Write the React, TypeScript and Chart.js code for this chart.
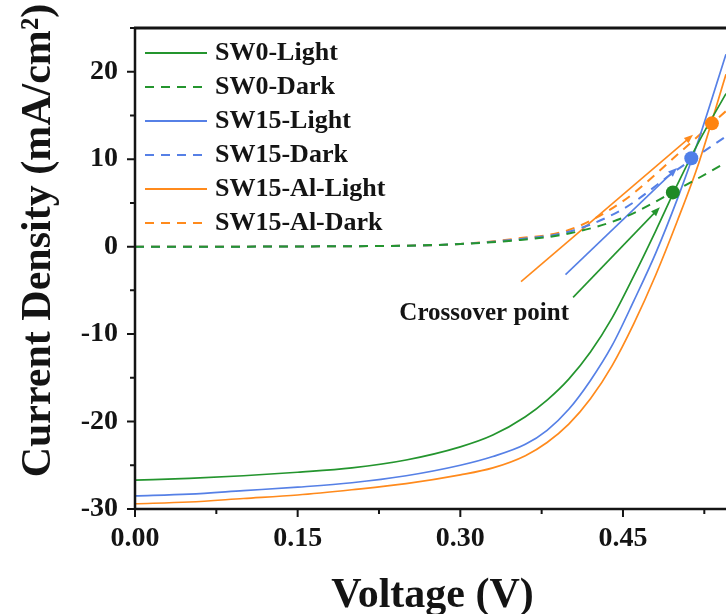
import React, { useEffect, useRef } from 'react';
import { Chart, registerables } from 'chart.js';

Chart.register(...registerables);

// ---- data ----
const lightV = [0, 0.05, 0.1, 0.15, 0.2, 0.25, 0.3, 0.33, 0.36, 0.38, 0.4, 0.42, 0.44, 0.46, 0.48, 0.5, 0.52, 0.545];
const sw0Light = [-26.7, -26.5, -26.2, -25.8, -25.3, -24.4, -22.9, -21.55, -19.45, -17.55, -15.15, -12.05, -8.15, -3.35, 1.75, 7.05, 12.0, 17.5];
const sw15Light = [-28.5, -28.3, -27.9, -27.5, -27.0, -26.2, -25.0, -24.0, -22.6, -21.0, -18.6, -15.3, -11.3, -6.2, -0.8, 5.4, 12.3, 22.0];
const sw15AlLight = [-29.4, -29.2, -28.8, -28.4, -27.8, -27.1, -26.1, -25.3, -23.9, -22.4, -20.3, -17.4, -13.6, -8.8, -3.3, 2.9, 9.6, 19.7];

const darkV = [0, 0.05, 0.1, 0.15, 0.2, 0.25, 0.3, 0.35, 0.4, 0.45, 0.5, 0.545];
const sw0Dark = [0, 0, 0, 0.02, 0.05, 0.1, 0.3, 0.7, 1.5, 3.3, 6.5, 9.6];
const sw15Dark = [0, 0, 0, 0.02, 0.05, 0.1, 0.3, 0.8, 1.7, 4.3, 8.8, 12.6];
const sw15AlDark = [0, 0, 0, 0.02, 0.05, 0.1, 0.3, 0.9, 1.9, 5.2, 10.5, 15.5];

const crossV = [0.496, 0.513, 0.532];
const crossJ = [6.2, 10.1, 14.1];

const arrowStartV = [0.404, 0.397, 0.356];
const arrowStartJ = [-5.8, -3.2, -4.0];
const arrowEndV = [0.484, 0.4998, 0.5146];
const arrowEndJ = [4.5, 9.0, 12.8];

const seriesLabels = ['SW0-Light', 'SW0-Dark', 'SW15-Light', 'SW15-Dark', 'SW15-Al-Light', 'SW15-Al-Dark'];
const xTitle = 'Voltage (V)';
const yTitle = 'Current Density (mA/cm²)';
const annotationText = 'Crossover point';

// ---- styles ----
const GREEN = '#24952e';
const BLUE = '#5680e6';
const ORANGE = '#ff8a1c';
const DOT_COLORS = ['#1f8a24', '#4f7fe8', '#ff8410'];
const ARROW_COLORS = [GREEN, BLUE, ORANGE];
const FONT = '"Liberation Serif", "Times New Roman", serif';
const INK = '#141414';

const pts = (xs: number[], ys: number[]) => xs.map((x, i) => ({ x, y: ys[i] }));

const isMult = (v: number, step: number) => Math.abs(v / step - Math.round(v / step)) < 1e-6;

export default function App() {
  const ref = useRef<HTMLCanvasElement>(null);

  useEffect(() => {
    const canvas = ref.current;
    if (!canvas) return;

    const overlay = {
      id: 'overlay',
      beforeDatasetsDraw(chart: any) {
        const { ctx, scales } = chart;
        const xs = scales.x;
        const ys = scales.y;
        ctx.save();
        for (let i = 0; i < arrowStartV.length; i++) {
          const x0 = xs.getPixelForValue(arrowStartV[i]);
          const y0 = ys.getPixelForValue(arrowStartJ[i]);
          const x1 = xs.getPixelForValue(arrowEndV[i]);
          const y1 = ys.getPixelForValue(arrowEndJ[i]);
          const ang = Math.atan2(y1 - y0, x1 - x0);
          ctx.strokeStyle = ARROW_COLORS[i];
          ctx.fillStyle = ARROW_COLORS[i];
          ctx.lineWidth = 1.6;
          ctx.beginPath();
          ctx.moveTo(x0, y0);
          ctx.lineTo(x1 - 6 * Math.cos(ang), y1 - 6 * Math.sin(ang));
          ctx.stroke();
          const L = 9;
          const W = 3.5;
          ctx.beginPath();
          ctx.moveTo(x1, y1);
          ctx.lineTo(x1 - L * Math.cos(ang) + W * Math.sin(ang), y1 - L * Math.sin(ang) - W * Math.cos(ang));
          ctx.lineTo(x1 - L * Math.cos(ang) - W * Math.sin(ang), y1 - L * Math.sin(ang) + W * Math.cos(ang));
          ctx.closePath();
          ctx.fill();
        }
        ctx.restore();
      },
      afterDraw(chart: any) {
        const { ctx, chartArea, scales } = chart;
        const xs = scales.x;
        const ys = scales.y;
        ctx.save();
        ctx.strokeStyle = INK;
        ctx.lineCap = 'butt';
        // axis lines
        ctx.lineWidth = 2.5;
        ctx.beginPath();
        ctx.moveTo(chartArea.left, chartArea.top - 1);
        ctx.lineTo(chartArea.left, chartArea.bottom + 1);
        ctx.moveTo(chartArea.left - 1, chartArea.bottom);
        ctx.lineTo(chartArea.right, chartArea.bottom);
        ctx.stroke();
        ctx.lineWidth = 3;
        ctx.beginPath();
        ctx.moveTo(chartArea.left - 1, chartArea.top);
        ctx.lineTo(chartArea.right, chartArea.top);
        ctx.stroke();
        // ticks
        ctx.lineWidth = 2;
        ctx.beginPath();
        xs.ticks.forEach((t: any) => {
          const px = xs.getPixelForValue(t.value);
          const len = isMult(t.value, 0.15) ? 8 : 5;
          ctx.moveTo(px, chartArea.bottom);
          ctx.lineTo(px, chartArea.bottom + len);
        });
        ys.ticks.forEach((t: any) => {
          const py = ys.getPixelForValue(t.value);
          const len = isMult(t.value, 10) ? 8 : 5;
          ctx.moveTo(chartArea.left, py);
          ctx.lineTo(chartArea.left - len, py);
        });
        ctx.stroke();

        // legend
        const items = chart.data.datasets.filter((d: any) => d.inLegend);
        items.forEach((d: any, i: number) => {
          const cy = chartArea.top + 25 + i * 34;
          ctx.save();
          ctx.strokeStyle = d.borderColor;
          ctx.lineWidth = 2;
          ctx.setLineDash(d.borderDash || []);
          ctx.beginPath();
          ctx.moveTo(chartArea.left + 10, cy);
          ctx.lineTo(chartArea.left + 72, cy);
          ctx.stroke();
          ctx.restore();
          ctx.fillStyle = INK;
          ctx.font = `bold 26px ${FONT}`;
          ctx.textAlign = 'left';
          ctx.textBaseline = 'middle';
          ctx.fillText(d.label, chartArea.left + 80, cy);
        });

        // annotation text
        ctx.fillStyle = INK;
        ctx.font = `bold 25px ${FONT}`;
        ctx.textAlign = 'center';
        ctx.textBaseline = 'alphabetic';
        ctx.fillText(annotationText, xs.getPixelForValue(0.322), ys.getPixelForValue(-8.4));

        // axis titles
        ctx.font = `bold 42px ${FONT}`;
        ctx.textAlign = 'center';
        ctx.textBaseline = 'alphabetic';
        ctx.fillText(xTitle, (chartArea.left + chartArea.right) / 2 + 2, chartArea.bottom + 98);
        ctx.save();
        ctx.translate(50, (chartArea.top + chartArea.bottom) / 2 - 28);
        ctx.rotate(-Math.PI / 2);
        ctx.fillText(yTitle, 0, 0);
        ctx.restore();
        ctx.restore();
      },
    };

    const tickFont = { family: FONT, size: 28, weight: 'bold' as const };

    const lineDs = (label: string, xs: number[], ys: number[], color: string, dashed: boolean) => ({
      label,
      data: pts(xs, ys),
      borderColor: color,
      borderWidth: dashed ? 2 : 1.7,
      borderDash: dashed ? [9, 7] : [],
      pointRadius: 0,
      pointHoverRadius: 0,
      cubicInterpolationMode: 'monotone',
      inLegend: true,
      order: 1,
    });

    const chart = new Chart(canvas, {
      type: 'line',
      data: {
        datasets: [
          {
            type: 'scatter',
            label: 'crossover',
            data: pts(crossV, crossJ),
            pointRadius: 7,
            pointHoverRadius: 7,
            pointBackgroundColor: DOT_COLORS,
            pointBorderColor: DOT_COLORS,
            pointBorderWidth: 0,
            showLine: false,
            order: 0,
          } as any,
          lineDs(seriesLabels[0], lightV, sw0Light, GREEN, false) as any,
          lineDs(seriesLabels[1], darkV, sw0Dark, GREEN, true) as any,
          lineDs(seriesLabels[2], lightV, sw15Light, BLUE, false) as any,
          lineDs(seriesLabels[3], darkV, sw15Dark, BLUE, true) as any,
          lineDs(seriesLabels[4], lightV, sw15AlLight, ORANGE, false) as any,
          lineDs(seriesLabels[5], darkV, sw15AlDark, ORANGE, true) as any,
        ],
      },
      options: {
        responsive: false,
        animation: false,
        devicePixelRatio: 1,
        layout: { autoPadding: false, padding: { top: 28, left: 0, right: 0, bottom: 0 } },
        plugins: {
          legend: { display: false },
          tooltip: { enabled: false },
          title: { display: false },
        },
        scales: {
          x: {
            type: 'linear',
            min: 0,
            max: 0.545,
            grid: { display: false, drawTicks: false },
            border: { display: false },
            ticks: {
              stepSize: 0.075,
              includeBounds: false,
              autoSkip: false,
              maxRotation: 0,
              padding: 13,
              color: INK,
              font: tickFont,
              callback: (v: any) => (isMult(Number(v), 0.15) ? Number(v).toFixed(2) : ''),
            },
            afterFit: (s: any) => {
              s.height = 105;
              s.paddingLeft = 0;
              s.paddingRight = 0;
            },
          },
          y: {
            type: 'linear',
            min: -30,
            max: 25,
            grid: { display: false, drawTicks: false },
            border: { display: false },
            ticks: {
              stepSize: 5,
              autoSkip: false,
              padding: 17,
              color: INK,
              font: tickFont,
              callback: (v: any) => (isMult(Number(v), 10) ? String(v) : ''),
            },
            afterFit: (s: any) => {
              s.width = 135;
              s.paddingTop = 0;
              s.paddingBottom = 0;
            },
          },
        },
      } as any,
      plugins: [overlay],
    });

    return () => chart.destroy();
  }, []);

  return (
    <div style={{ position: 'fixed', left: 0, top: 0, width: 726, height: 614, background: '#fff' }}>
      <canvas ref={ref} width={726} height={614} style={{ display: 'block', width: 726, height: 614 }} />
    </div>
  );
}
